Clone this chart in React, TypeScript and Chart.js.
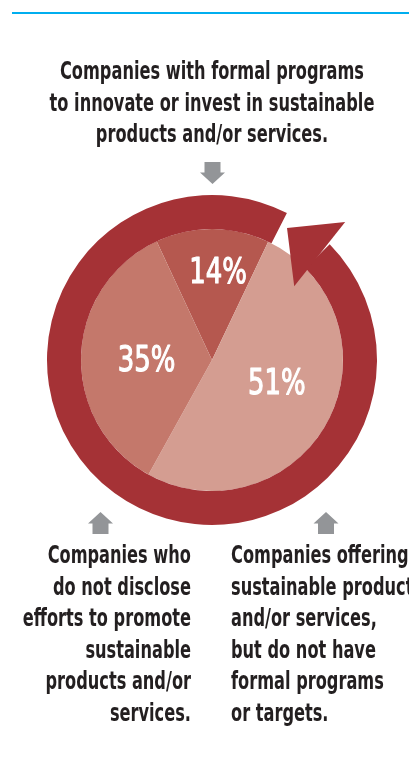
import React, { useEffect, useRef } from "react";
import { Chart, registerables } from "chart.js";

Chart.register(...registerables);

// ---- data ----
const categories = [
  "Companies with formal programs to innovate or invest in sustainable products and/or services.",
  "Companies offering sustainable products and/or services, but do not have formal programs or targets.",
  "Companies who do not disclose efforts to promote sustainable products and/or services.",
];
const shares = [14, 51, 35];
const sliceColors = ["#b5584f", "#d49d91", "#c4786b"];
const ringColor = "#a53236";
const arrowGrey = "#939598";
const titleLines = [
  "Companies with formal programs",
  "to innovate or invest in sustainable",
  "products and/or services.",
];
const leftLines = [
  "Companies who",
  "do not disclose",
  "efforts to promote",
  "sustainable",
  "products and/or",
  "services.",
];
const rightLines = [
  "Companies offering",
  "sustainable products",
  "and/or services,",
  "but do not have",
  "formal programs",
  "or targets.",
];

const FONT = '"DejaVu Sans Condensed", "Liberation Sans Narrow", sans-serif';
const DEG = Math.PI / 180;
const SQUEEZE = 0.75;

// label placement style: [radius fraction, angle shift in degrees]
const labelPlacement = [
  [0.69, 3.6],
  [0.52, -9.3],
  [0.5, -0.3],
];

const ringArrowPlugin = {
  id: "ringArrow",
  afterDatasetsDraw(chart: any) {
    const meta = chart.getDatasetMeta(0);
    const arc = meta.data[0];
    if (!arc) return;
    const { x, y, innerRadius, outerRadius, startAngle } = arc as any;
    const mid = (innerRadius + outerRadius) / 2;
    const pts = [
      [startAngle - 15.9 * DEG, mid + 3.8],
      [startAngle - 1.5 * DEG, outerRadius + 26.7],
      [startAngle + 2.6 * DEG, innerRadius - 20.5],
    ];
    const ctx = chart.ctx;
    ctx.save();
    ctx.fillStyle = ringColor;
    ctx.beginPath();
    pts.forEach(([a, r], i) => {
      const px = x + r * Math.cos(a);
      const py = y + r * Math.sin(a);
      if (i === 0) ctx.moveTo(px, py);
      else ctx.lineTo(px, py);
    });
    ctx.closePath();
    ctx.fill();
    ctx.restore();
  },
};

const sliceLabelPlugin = {
  id: "sliceLabels",
  afterDatasetsDraw(chart: any) {
    const meta = chart.getDatasetMeta(1);
    const ctx = chart.ctx;
    const size = 36;
    meta.data.forEach((arc: any, i: number) => {
      const [frac, shift] = labelPlacement[i];
      const a = (arc.startAngle + arc.endAngle) / 2 + shift * DEG;
      const r = frac * arc.outerRadius;
      const px = arc.x + r * Math.cos(a);
      const py = arc.y + r * Math.sin(a);
      ctx.save();
      ctx.fillStyle = "#ffffff";
      ctx.strokeStyle = "#ffffff";
      ctx.lineWidth = 1.1;
      ctx.lineJoin = "round";
      ctx.font = `${size}px ${FONT}`;
      ctx.textAlign = "center";
      ctx.textBaseline = "alphabetic";
      ctx.translate(px, py + (size * 0.729) / 2);
      ctx.scale(0.8, 1);
      ctx.fillText(`${shares[i]}%`, 0, 0);
      ctx.strokeText(`${shares[i]}%`, 0, 0);
      ctx.restore();
    });
  },
};

function drawBlockArrow(ctx: CanvasRenderingContext2D, cx: number, tipY: number, dir: number) {
  const headH = 11.5;
  const headW = 12.5;
  const stemW = 8;
  const stemH = 10.5;
  const baseY = tipY - dir * headH;
  const endY = baseY - dir * stemH;
  ctx.beginPath();
  ctx.moveTo(cx, tipY);
  ctx.lineTo(cx + headW, baseY);
  ctx.lineTo(cx + stemW, baseY);
  ctx.lineTo(cx + stemW, endY);
  ctx.lineTo(cx - stemW, endY);
  ctx.lineTo(cx - stemW, baseY);
  ctx.lineTo(cx - headW, baseY);
  ctx.closePath();
  ctx.fill();
}

const pointerPlugin = {
  id: "pointers",
  afterDraw(chart: any) {
    const arc = chart.getDatasetMeta(0).data[0] as any;
    if (!arc) return;
    const ctx = chart.ctx;
    ctx.save();
    ctx.fillStyle = arrowGrey;
    drawBlockArrow(ctx, arc.x + 0.5, arc.y - 176, 1);
    drawBlockArrow(ctx, arc.x - 111.5, arc.y + 152, -1);
    drawBlockArrow(ctx, arc.x + 114, arc.y + 152, -1);
    ctx.restore();
  },
};

function PieChart() {
  const ref = useRef<HTMLCanvasElement | null>(null);
  useEffect(() => {
    if (!ref.current) return;
    const chart = new Chart(ref.current, {
      type: "doughnut",
      data: {
        labels: categories,
        datasets: [
          {
            label: "cycle",
            data: [1],
            backgroundColor: [ringColor],
            borderWidth: 0,
            rotation: 45.5,
            circumference: 341.5,
            weight: 34,
          } as any,
          {
            label: "share",
            data: shares,
            backgroundColor: sliceColors,
            borderWidth: 0,
            rotation: -25,
            weight: 131,
          } as any,
        ],
      },
      options: {
        responsive: false,
        animation: false,
        cutout: 0,
        events: [],
        layout: { padding: { left: 47, right: 32, top: 195, bottom: 256 } },
        plugins: { legend: { display: false }, tooltip: { enabled: false } },
      } as any,
      plugins: [ringArrowPlugin, sliceLabelPlugin, pointerPlugin],
    });
    return () => chart.destroy();
  }, []);
  return (
    <canvas
      ref={ref}
      width={409}
      height={781}
      style={{ position: "absolute", left: 0, top: 0, width: 409, height: 781 }}
    />
  );
}

const textStyle: React.CSSProperties = {
  position: "absolute",
  fontFamily: FONT,
  fontWeight: 700,
  fontSize: 24,
  lineHeight: "31.6px",
  color: "#231f20",
  whiteSpace: "nowrap",
};

export default function App() {
  return (
    <div
      style={{
        position: "absolute",
        left: 0,
        top: 0,
        width: 409,
        height: 781,
        overflow: "hidden",
        background: "#ffffff",
      }}
    >
      <div style={{ position: "absolute", left: 12, top: 12, width: 397, height: 2, background: "#00aeef" }} />
      <PieChart />
      <div
        style={{
          ...textStyle,
          left: -88,
          width: 600,
          top: 56,
          textAlign: "center",
          transform: `scaleX(${SQUEEZE})`,
          transformOrigin: "300px 0",
        }}
      >
        {titleLines.map((l) => (
          <div key={l}>{l}</div>
        ))}
      </div>
      <div
        style={{
          ...textStyle,
          left: -109,
          width: 300,
          top: 540,
          textAlign: "right",
          transform: `scaleX(${SQUEEZE})`,
          transformOrigin: "300px 0",
        }}
      >
        {leftLines.map((l) => (
          <div key={l}>{l}</div>
        ))}
      </div>
      <div
        style={{
          ...textStyle,
          left: 231,
          top: 540,
          textAlign: "left",
          transform: `scaleX(${SQUEEZE})`,
          transformOrigin: "0 0",
        }}
      >
        {rightLines.map((l) => (
          <div key={l}>{l}</div>
        ))}
      </div>
    </div>
  );
}
